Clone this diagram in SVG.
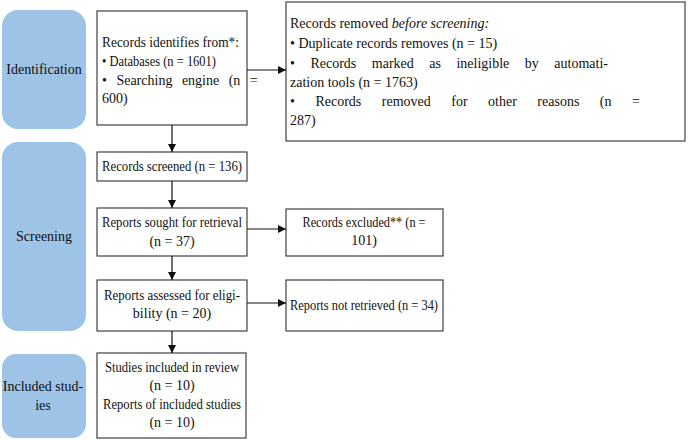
<svg xmlns="http://www.w3.org/2000/svg" width="690" height="440" viewBox="0 0 690 440" font-family="'Liberation Serif', 'Times New Roman', 'DejaVu Serif', serif">
<style>
.ph{fill:#9dc3e6}
.bx{fill:#fff;stroke:#404040;stroke-width:1.2}
text{font-family:'Liberation Serif','Times New Roman',serif;font-size:14px;fill:#111}
.c{text-anchor:middle}
.cn line{stroke:#111;stroke-width:1.2}
</style>
<defs><marker id="a" viewBox="0 0 10 10" refX="10" refY="5" markerWidth="7" markerHeight="7" orient="auto"><path d="M0,0L10,5L0,10z" fill="#111"/></marker></defs>
<g id="p1"><rect class="ph" x="2" y="10" width="84" height="119" rx="16"/><text class="c" x="44" y="74">Identification</text></g>
<g id="p2"><rect class="ph" x="2" y="142" width="84" height="189" rx="16"/><text class="c" x="44" y="241">Screening</text></g>
<g id="p3"><rect class="ph" x="2" y="354" width="84" height="84" rx="14"/><text class="c" x="43" y="391">Included stud-</text><text class="c" x="43" y="410">ies</text></g>
<g id="n1"><rect class="bx" x="97" y="11" width="150" height="114"/>
<text x="102" y="47" textLength="137" lengthAdjust="spacingAndGlyphs">Records identifies from*:</text>
<text x="102" y="66" textLength="114" lengthAdjust="spacingAndGlyphs">• Databases (n = 1601)</text>
<text x="102" y="85" word-spacing="6">• Searching engine (n =</text>
<text x="102" y="103">600)</text></g>
<g id="n2"><rect class="bx" x="286" y="2" width="399" height="139"/>
<text x="290" y="28" font-size="15">Records removed <tspan font-style="italic">before screening:</tspan></text>
<text x="290" y="48" font-size="15">• Duplicate records removes (n = 15)</text>
<text x="290" y="68" font-size="15" word-spacing="12">• Records marked as ineligible by automati-</text>
<text x="290" y="87" font-size="15">zation tools (n = 1763)</text>
<text x="290" y="106" font-size="15" word-spacing="17">• Records removed for other reasons (n =</text>
<text x="290" y="125" font-size="15">287)</text></g>
<g id="n3"><rect class="bx" x="97" y="152" width="150" height="29"/><text class="c" x="172" y="171" textLength="140" lengthAdjust="spacingAndGlyphs">Records screened (n = 136)</text></g>
<g id="n4"><rect class="bx" x="97" y="208" width="150" height="48"/><text class="c" x="172" y="227" textLength="140" lengthAdjust="spacingAndGlyphs">Reports sought for retrieval</text><text class="c" x="172" y="246">(n = 37)</text></g>
<g id="n5"><rect class="bx" x="286" y="209" width="157" height="47"/><text class="c" x="364" y="227" textLength="123" lengthAdjust="spacingAndGlyphs">Records excluded** (n =</text><text class="c" x="364" y="245">101)</text></g>
<g id="n6"><rect class="bx" x="97" y="280" width="150" height="51"/><text class="c" x="172" y="300" textLength="136" lengthAdjust="spacingAndGlyphs">Reports assessed for eligi-</text><text class="c" x="172" y="318">bility (n = 20)</text></g>
<g id="n7"><rect class="bx" x="286" y="280" width="157" height="51"/><text class="c" x="364" y="310" textLength="148" lengthAdjust="spacingAndGlyphs">Reports not retrieved (n = 34)</text></g>
<g id="n8"><rect class="bx" x="97" y="353" width="149" height="85"/>
<text class="c" x="172" y="372" textLength="134" lengthAdjust="spacingAndGlyphs">Studies included in review</text><text class="c" x="172" y="390">(n = 10)</text>
<text class="c" x="172" y="409" textLength="138" lengthAdjust="spacingAndGlyphs">Reports of included studies</text><text class="c" x="172" y="427">(n = 10)</text></g>
<g class="cn" id="connectors">
<line x1="247" y1="70" x2="286" y2="70" marker-end="url(#a)"/>
<line x1="172" y1="125" x2="172" y2="152" marker-end="url(#a)"/>
<line x1="172" y1="181" x2="172" y2="208" marker-end="url(#a)"/>
<line x1="247" y1="229" x2="286" y2="229" marker-end="url(#a)"/>
<line x1="172" y1="256" x2="172" y2="280" marker-end="url(#a)"/>
<line x1="247" y1="303" x2="286" y2="303" marker-end="url(#a)"/>
<line x1="172" y1="331" x2="172" y2="353" marker-end="url(#a)"/>
</g>
</svg>
